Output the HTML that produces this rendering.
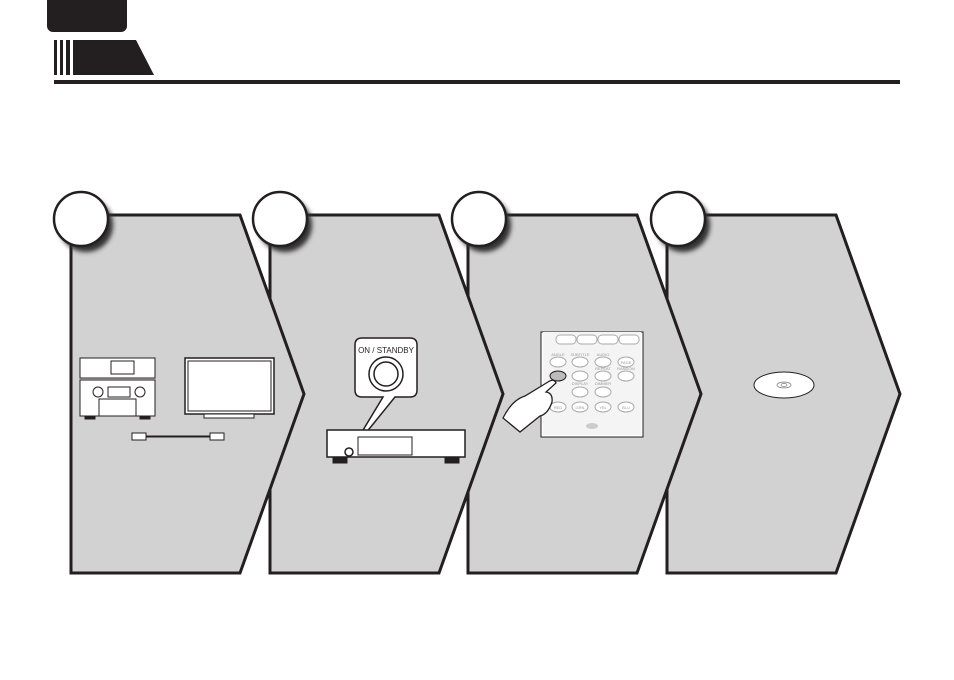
<!DOCTYPE html>
<html><head><meta charset="utf-8"><style>
html,body{margin:0;padding:0;background:#fff;width:954px;height:680px;overflow:hidden}
svg{display:block;font-family:"Liberation Sans",sans-serif}
</style></head><body>
<svg width="954" height="680" viewBox="0 0 954 680" xmlns="http://www.w3.org/2000/svg">
<defs>
<filter id="sh" x="-50%" y="-50%" width="200%" height="200%"><feGaussianBlur stdDeviation="2.5"/></filter>
</defs>
<!-- header -->
<rect x="47" y="-6" width="80" height="38" rx="6" fill="#231f20"/>
<rect x="54" y="40" width="3" height="35" fill="#231f20"/>
<rect x="60" y="40" width="3" height="35" fill="#231f20"/>
<rect x="66" y="40" width="4" height="35" fill="#231f20"/>
<polygon points="73,40 136,40 154,75 73,75" fill="#231f20"/>
<rect x="54" y="80" width="846" height="4" fill="#231f20"/>

<!-- panels back to front -->
<g stroke="#231f20" stroke-width="3" fill="#d2d2d2" stroke-linejoin="miter">
<path d="M667,215 L836,215 L900,394 L836,573 L667,573 Z"/>
<path d="M468,215 L637,215 L701,394 L637,573 L468,573 Z"/>
<path d="M270,215 L439,215 L503,394 L439,573 L270,573 Z"/>
<path d="M71,215 L240,215 L304,394 L240,573 L71,573 Z"/>
</g>
<!-- circles -->
<g>
<circle cx="86" cy="225" r="27" fill="#333" filter="url(#sh)"/>
<circle cx="81" cy="219" r="27" fill="#fff" stroke="#231f20" stroke-width="2.5"/>
<circle cx="285" cy="225" r="27" fill="#333" filter="url(#sh)"/>
<circle cx="280" cy="219" r="27" fill="#fff" stroke="#231f20" stroke-width="2.5"/>
<circle cx="484" cy="225" r="27" fill="#333" filter="url(#sh)"/>
<circle cx="479" cy="219" r="27" fill="#fff" stroke="#231f20" stroke-width="2.5"/>
<circle cx="683" cy="225" r="27" fill="#333" filter="url(#sh)"/>
<circle cx="678" cy="219" r="27" fill="#fff" stroke="#231f20" stroke-width="2.5"/>
</g>

<!-- panel 1 devices -->
<g stroke="#231f20" stroke-width="1" fill="#fff">
<rect x="80" y="358" width="75" height="20"/>
<rect x="111" y="361" width="23" height="13"/>
<rect x="80" y="380" width="75" height="36"/>
<rect x="108" y="387" width="22" height="10"/>
<rect x="99" y="399" width="37" height="17"/>
<circle cx="98" cy="392" r="5"/><circle cx="140" cy="392" r="5"/>
<rect x="85" y="416" width="10" height="3" fill="#231f20"/>
<rect x="140" y="416" width="10" height="3" fill="#231f20"/>
<rect x="185" y="358" width="89" height="56" stroke-width="1.5"/>
<rect x="188" y="361" width="83" height="50"/>
<rect x="204" y="414" width="50" height="4"/>
<rect x="132" y="433" width="14" height="7"/>
<rect x="210" y="433" width="14" height="7"/>
</g>
<line x1="146" y1="436.5" x2="210" y2="436.5" stroke="#231f20" stroke-width="2"/>

<!-- panel 2 -->
<g stroke="#231f20" fill="#fff">
<path d="M362,338 L410,338 Q417,338 417,345 L417,390 Q417,397 410,397 L395,397 L348,455 L383,397 L362,397 Q355,397 355,390 L355,345 Q355,338 362,338 Z" stroke-width="1.5"/>
<circle cx="386" cy="374" r="17" stroke-width="1.5"/>
<circle cx="386" cy="374" r="12" stroke-width="1.5"/>
<rect x="327" y="430" width="138" height="27" stroke-width="1.5"/>
<rect x="358" y="437" width="54" height="18" stroke-width="1"/>
<circle cx="349" cy="452" r="4" stroke-width="1.5"/>
<rect x="333" y="457" width="14" height="6" fill="#231f20"/>
<rect x="445" y="457" width="14" height="6" fill="#231f20"/>
</g>
<text x="386" y="353" font-size="8" text-anchor="middle" fill="#231f20">ON / STANDBY</text>

<!-- panel 3 remote -->
<g>
<rect x="541" y="332" width="102" height="105" fill="#fff" stroke="#231f20" stroke-width="1"/>
<rect x="543" y="332" width="98" height="103" fill="#f4f4f4"/>
<g fill="#fff" stroke="#aaa" stroke-width="1">
<rect x="556" y="335" width="20" height="9" rx="4"/><rect x="577" y="335" width="20" height="9" rx="4"/>
<rect x="598" y="335" width="20" height="9" rx="4"/><rect x="619" y="335" width="20" height="9" rx="4"/>
<ellipse cx="558" cy="362" rx="8" ry="5"/><ellipse cx="580" cy="362" rx="8" ry="5"/>
<ellipse cx="603" cy="362" rx="8" ry="5"/><ellipse cx="626" cy="362" rx="8" ry="5"/>
<ellipse cx="580" cy="376" rx="8" ry="5"/><ellipse cx="603" cy="376" rx="8" ry="5"/><ellipse cx="626" cy="376" rx="8" ry="5"/>
<ellipse cx="580" cy="392" rx="8" ry="5"/><ellipse cx="603" cy="392" rx="8" ry="5"/>
<ellipse cx="558" cy="407" rx="8" ry="5"/><ellipse cx="580" cy="407" rx="8" ry="5"/>
<ellipse cx="603" cy="407" rx="8" ry="5"/><ellipse cx="626" cy="407" rx="8" ry="5"/>
</g>
<ellipse cx="558" cy="376" rx="8" ry="5" fill="#bbb" stroke="#231f20"/>
<g font-size="4" fill="#999" text-anchor="middle">
<text x="558" y="356">ANGLE</text><text x="580" y="356">SUBTITLE</text><text x="603" y="356">AUDIO</text>
<text x="626" y="364">PAGE</text><text x="603" y="370">REPEAT</text><text x="626" y="370">RANDOM</text>
<text x="580" y="385">DISPLAY</text><text x="603" y="385">DIMMER</text>
<text x="558" y="409">RED</text><text x="580" y="409">GRN</text><text x="603" y="409">YEL</text><text x="626" y="409">BLU</text>
</g>
<path d="M503,418 Q512,400 525,396 L548,382 Q554,378 556,383 L546,392 Q553,393 552,402 Q548,414 540,416 Q530,424 520,432 Z" fill="#fff" stroke="#231f20" stroke-width="1.3"/>
<ellipse cx="592" cy="426" rx="6" ry="3" fill="#ccc"/>
</g>

<!-- panel 4 disc -->
<ellipse cx="784" cy="385" rx="30" ry="13" fill="#fff" stroke="#231f20" stroke-width="1"/>
<ellipse cx="784" cy="385" rx="7" ry="3" fill="none" stroke="#777" stroke-width="0.7"/>
<ellipse cx="784" cy="385" rx="3" ry="1.5" fill="none" stroke="#777" stroke-width="0.7"/>
</svg>
</body></html>
